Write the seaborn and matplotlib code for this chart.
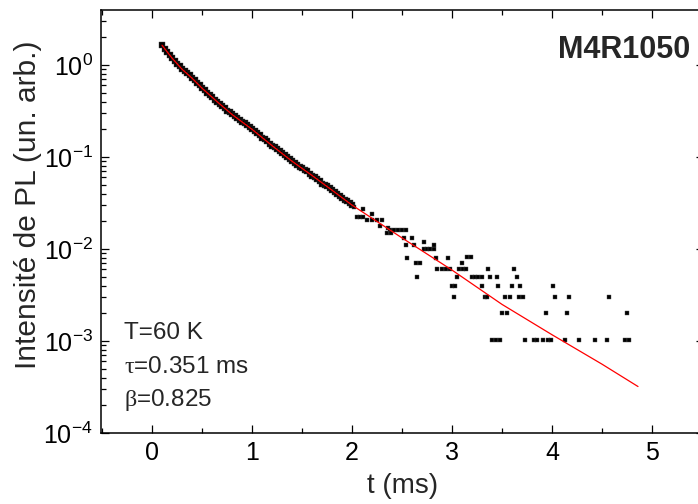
import matplotlib
matplotlib.use('Agg')
import matplotlib.pyplot as plt
import seaborn as sns
from matplotlib.ticker import MultipleLocator, LogLocator

t_dense = [0.100, 0.125, 0.150, 0.175, 0.200, 0.225, 0.250, 0.275, 0.300, 0.325,
           0.350, 0.375, 0.400, 0.425, 0.450, 0.475, 0.500, 0.525, 0.550, 0.575,
           0.600, 0.625, 0.650, 0.675, 0.700, 0.725, 0.750, 0.775, 0.800, 0.825,
           0.850, 0.875, 0.900, 0.925, 0.950, 0.975, 1.000, 1.025, 1.050, 1.075,
           1.100, 1.125, 1.150, 1.175, 1.200, 1.225, 1.250, 1.275, 1.300, 1.325,
           1.350, 1.375, 1.400, 1.425, 1.450, 1.475, 1.500, 1.525, 1.550, 1.575,
           1.600, 1.625, 1.650, 1.675, 1.700, 1.725, 1.750, 1.775, 1.800, 1.825,
           1.850, 1.875, 1.900, 1.925, 1.950, 1.975, 2.000]
i_dense = [1.64, 1.51, 1.40, 1.29, 1.19, 1.11, 1.035, 0.966, 0.90, 0.85,
           0.81, 0.77, 0.72, 0.68, 0.64, 0.60, 0.56, 0.53, 0.50, 0.47,
           0.447, 0.42, 0.40, 0.38, 0.36, 0.34, 0.32, 0.305, 0.29, 0.28,
           0.265, 0.255, 0.24, 0.232, 0.225, 0.21, 0.20, 0.19, 0.181, 0.172,
           0.160, 0.155, 0.149, 0.14, 0.133, 0.127, 0.122, 0.115, 0.110, 0.105,
           0.100, 0.094, 0.091, 0.086, 0.082, 0.0785, 0.075, 0.073, 0.070, 0.066,
           0.062, 0.060, 0.0575, 0.055, 0.051, 0.050, 0.048, 0.0455, 0.044, 0.0417,
           0.040, 0.038, 0.0355, 0.0340, 0.033, 0.0316, 0.0300]

# measured decay (noisy tail)
t_tail = [2.02, 2.05, 2.08, 2.11, 2.11, 2.15, 2.20, 2.20, 2.25, 2.28,
          2.30, 2.35, 2.36, 2.38, 2.39, 2.42, 2.46, 2.50, 2.52, 2.54,
          2.54, 2.55, 2.60, 2.62, 2.64, 2.65, 2.68, 2.72, 2.72, 2.75,
          2.78, 2.82, 2.82, 2.84, 2.85, 2.90, 2.94, 2.96, 2.98, 3.00,
          3.02, 3.03, 3.05, 3.07, 3.10, 3.11, 3.14, 3.15, 3.19, 3.20,
          3.23, 3.26, 3.30, 3.30, 3.33, 3.35, 3.36, 3.38, 3.40, 3.44,
          3.45, 3.46, 3.48, 3.50, 3.53, 3.55, 3.58, 3.60, 3.62, 3.65,
          3.67, 3.68, 3.71, 3.73, 3.82, 3.85, 3.91, 3.94, 3.96, 3.99,
          4.01, 4.03, 4.13, 4.15, 4.17, 4.27, 4.43, 4.55, 4.57, 4.73,
          4.75, 4.77]
i_tail = [0.0285, 0.0224, 0.0224, 0.0224, 0.0270, 0.0207, 0.0240, 0.0207, 0.0207, 0.0178,
          0.0207, 0.0150, 0.0171, 0.0161, 0.0150, 0.0161, 0.0161, 0.0161, 0.0131, 0.0161,
          0.0110, 0.0079, 0.0131, 0.0110, 0.0070, 0.0050, 0.0070, 0.0120, 0.0099, 0.0099,
          0.0099, 0.0099, 0.0110, 0.0079, 0.0061, 0.0061, 0.0061, 0.0079, 0.0061, 0.0040,
          0.0030, 0.0040, 0.0050, 0.0061, 0.0070, 0.0061, 0.0061, 0.0081, 0.0081, 0.0050,
          0.0050, 0.0050, 0.0050, 0.0040, 0.0030, 0.0030, 0.0061, 0.0050, 0.00102, 0.00102,
          0.0050, 0.0040, 0.00102, 0.00204, 0.0030, 0.00204, 0.0030, 0.0040, 0.0061, 0.0050,
          0.0030, 0.0040, 0.0030, 0.00102, 0.00102, 0.00102, 0.00102, 0.00204, 0.00102, 0.00102,
          0.0040, 0.0030, 0.00102, 0.00204, 0.0030, 0.00102, 0.00102, 0.00102, 0.0030, 0.00102,
          0.00204, 0.00102]

# stretched-exponential fit curve
t_fit = [0.10, 0.20, 0.30, 0.40, 0.50, 0.65, 0.80, 1.00, 1.20, 1.40,
         1.60, 1.80, 2.00, 2.50, 3.00, 3.50, 4.00, 4.50, 4.86]
i_fit = [1.64, 1.19, 0.90, 0.72, 0.56, 0.40, 0.29, 0.20, 0.133, 0.090,
         0.063, 0.0436, 0.030, 0.0132, 0.0059, 0.0025, 0.00117, 0.00056, 0.00032]

sns.set_style('ticks')
plt.rcParams['font.family'] = ['Liberation Sans', 'DejaVu Sans']
plt.rcParams['mathtext.fontset'] = 'custom'
plt.rcParams['mathtext.rm'] = 'Liberation Serif'

fig = plt.figure(figsize=(6.98, 5.04), dpi=100)
ax = fig.add_axes([101 / 698, 71 / 504, 603 / 698, 423 / 504])

# data points: dense part drawn a little heavier, like the thick trace in the original
sns.scatterplot(x=t_dense, y=i_dense, marker='s', s=16,
                color='black', edgecolor='#444444', linewidth=0.3, ax=ax, zorder=2)
sns.scatterplot(x=t_tail, y=i_tail, marker='s', s=11,
                color='black', edgecolor='#555555', linewidth=0.3, ax=ax, zorder=2)
sns.lineplot(x=t_fit, y=i_fit, color='red', linewidth=0.9, ax=ax, zorder=3)

ax.set_yscale('log')
ax.set_xlim(-0.51, 5.52)
ax.set_ylim(1e-4, 3.96)
ax.xaxis.set_major_locator(MultipleLocator(1))
ax.xaxis.set_minor_locator(MultipleLocator(0.5))
ax.yaxis.set_major_locator(LogLocator(base=10, numticks=10))
ax.yaxis.set_minor_locator(LogLocator(base=10, subs=range(2, 10), numticks=10))

ax.tick_params(which='both', direction='in', top=True, right=True,
               width=0.9, labelsize=18, colors='black')
ax.tick_params(which='major', length=6, pad=6)
ax.tick_params(which='minor', length=3.5)
for sp in ax.spines.values():
    sp.set_linewidth(1.1)
    sp.set_color('black')

ax.set_xlabel('t (ms)', fontsize=20)
ax.xaxis.set_label_coords(0.5, -0.095)
ax.set_ylabel('Intensité de PL (un. arb.)', fontsize=21.5, va='center')
ax.yaxis.set_label_coords(-0.121, 0.539)

ax.text(0.977, 0.905, 'M4R1050', transform=ax.transAxes, ha='right', va='center',
        fontsize=22, fontweight='bold')
ax.text(0.038, 0.236, 'T=60 K', transform=ax.transAxes, ha='left', va='center', fontsize=17.5)
ax.text(0.038, 0.156, r'$\mathrm{\tau}$=0.351 ms', transform=ax.transAxes, ha='left',
        va='center', fontsize=17.5)
ax.text(0.038, 0.078, r'$\mathrm{\beta}$=0.825', transform=ax.transAxes, ha='left',
        va='center', fontsize=17.5)

fig.savefig('out.png', dpi=100)
